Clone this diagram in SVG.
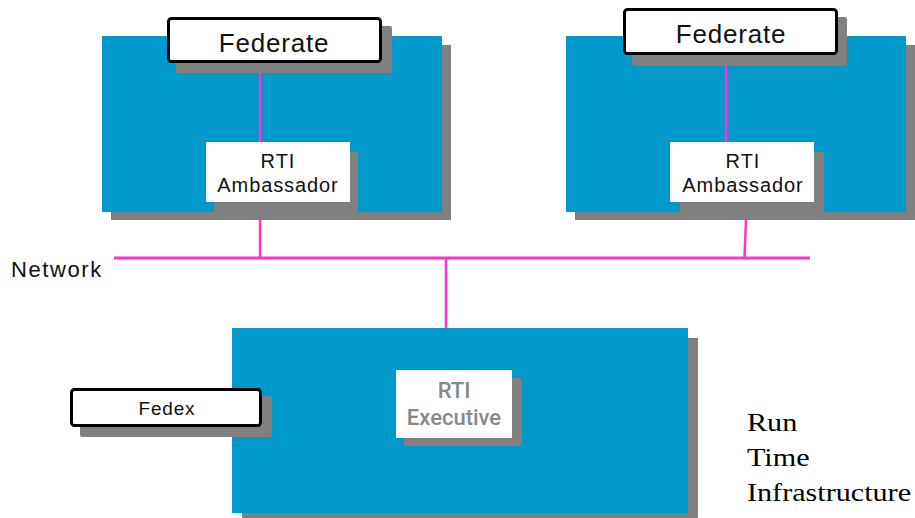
<svg xmlns="http://www.w3.org/2000/svg" width="915" height="518" viewBox="0 0 915 518">
  <style>
    .panel { fill: #0099cc; }
    .shadow { fill: #808080; }
    .fed { fill: #ffffff; stroke: #000000; stroke-width: 3; }
    .plain { fill: #ffffff; }
    .link { stroke: #ff33cc; stroke-width: 2.5; fill: none; }
    .net { stroke: #ff33cc; stroke-width: 3; fill: none; }
    .sans { font-family: "Liberation Sans", Arial, sans-serif; fill: #111111; }
    .exec { font-family: Roboto, "Liberation Sans", sans-serif; font-weight: 500; fill: #888888; }
    .serif { font-family: "Liberation Serif", "Times New Roman", serif; fill: #000000; }
  </style>

  <rect width="915" height="518" fill="#ffffff"/>

  <!-- left federate host -->
  <g id="host-left">
    <rect class="shadow" x="111" y="45" width="340" height="175"/>
    <rect class="panel" x="102" y="36" width="340" height="176"/>
  </g>
  <g id="federate-left">
    <rect class="shadow" x="176" y="26" width="216" height="47" rx="2"/>
    <rect class="fed" x="168.5" y="18.5" width="212" height="43" rx="3"/>
    <text class="sans" x="274" y="52" font-size="26" letter-spacing="0.8" text-anchor="middle">Federate</text>
  </g>
  <g id="ambassador-left">
    <rect class="shadow" x="214" y="152" width="144" height="60"/>
    <rect class="plain" x="206" y="142" width="144" height="60"/>
    <text class="sans" x="278" y="168" font-size="20" letter-spacing="1" text-anchor="middle">RTI</text>
    <text class="sans" x="278" y="192" font-size="20" letter-spacing="0.9" text-anchor="middle">Ambassador</text>
  </g>

  <!-- right federate host -->
  <g id="host-right">
    <rect class="shadow" x="575" y="45" width="340" height="175"/>
    <rect class="panel" x="566" y="36" width="340" height="176"/>
  </g>
  <g id="federate-right">
    <rect class="shadow" x="632" y="17" width="215" height="49" rx="2"/>
    <rect class="fed" x="624.5" y="9.5" width="212" height="44" rx="3"/>
    <text class="sans" x="731" y="43" font-size="26" letter-spacing="0.8" text-anchor="middle">Federate</text>
  </g>
  <g id="ambassador-right">
    <rect class="shadow" x="680" y="152" width="144" height="60"/>
    <rect class="plain" x="670" y="142" width="144" height="60"/>
    <text class="sans" x="743" y="168" font-size="20" letter-spacing="1" text-anchor="middle">RTI</text>
    <text class="sans" x="743" y="192" font-size="20" letter-spacing="0.9" text-anchor="middle">Ambassador</text>
  </g>

  <!-- RTI executive host -->
  <g id="rti-host">
    <rect class="shadow" x="242" y="338" width="456" height="180"/>
    <rect class="panel" x="232" y="328" width="456" height="185"/>
  </g>
  <g id="rti-executive">
    <rect class="shadow" x="404" y="378" width="118" height="68"/>
    <rect class="plain" x="396" y="370" width="116" height="68"/>
    <text class="exec" x="454" y="398" font-size="22" text-anchor="middle">RTI</text>
    <text class="exec" x="454" y="425" font-size="22" text-anchor="middle">Executive</text>
  </g>
  <g id="fedex">
    <rect class="shadow" x="80" y="396" width="192" height="41" rx="2"/>
    <rect class="fed" x="71.5" y="389.5" width="189" height="36" rx="3"/>
    <text class="sans" x="167" y="415" font-size="19" letter-spacing="0.8" text-anchor="middle">Fedex</text>
  </g>

  <!-- labels -->
  <g id="network-label">
    <text class="sans" x="11" y="277" font-size="22" letter-spacing="1.6">Network</text>
  </g>
  <g id="rti-label" transform="translate(747,0) scale(1.16,1)">
    <text class="serif" x="0" y="431" font-size="26">Run</text>
    <text class="serif" x="0" y="466" font-size="26">Time</text>
    <text class="serif" x="0" y="501" font-size="26">Infrastructure</text>
  </g>

  <!-- connectors -->
  <g id="connectors">
    <line class="net" x1="114" y1="258" x2="810" y2="258"/>
    <line class="link" x1="260" y1="73" x2="260" y2="142"/>
    <line class="link" x1="726" y1="66" x2="726" y2="142"/>
    <line class="link" x1="260" y1="220" x2="260" y2="258"/>
    <line class="link" x1="746" y1="220" x2="744.5" y2="258"/>
    <line class="link" x1="446" y1="258" x2="446" y2="328"/>
  </g>
</svg>
